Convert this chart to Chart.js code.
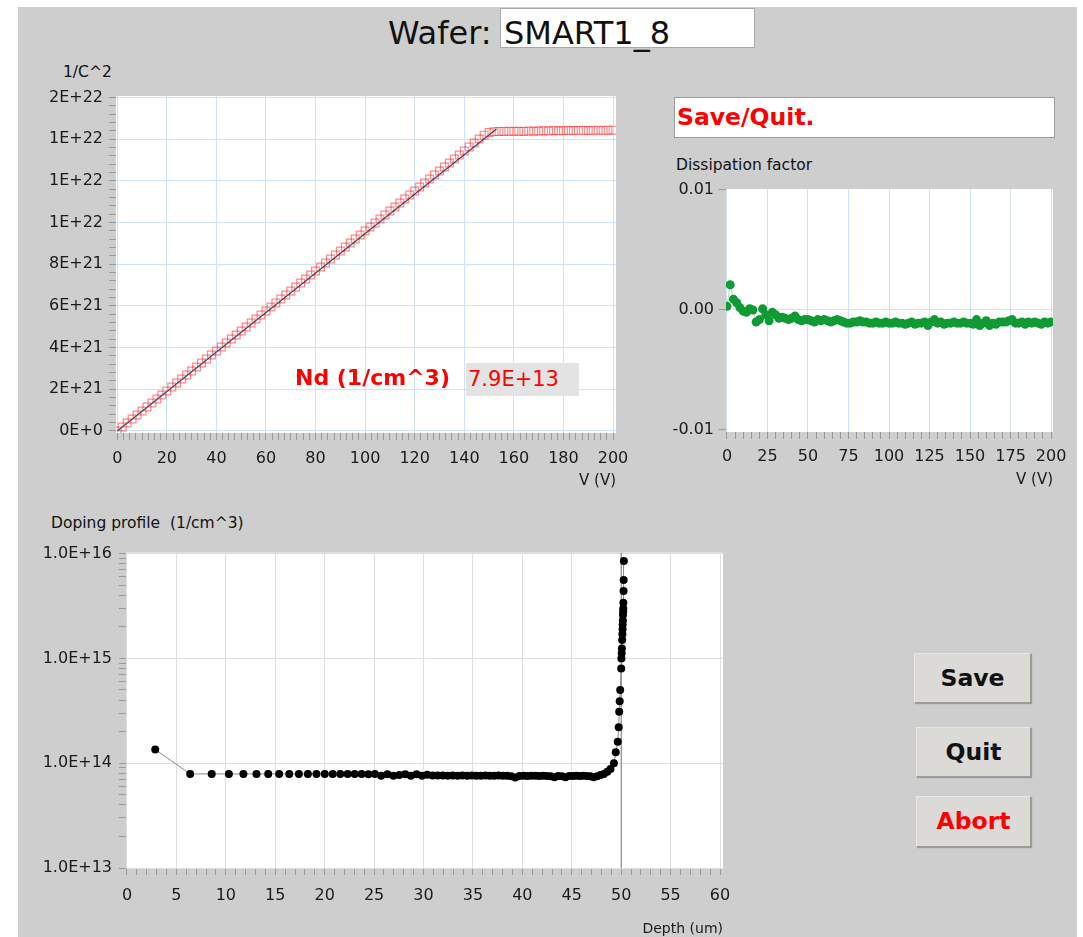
<!DOCTYPE html>
<html>
<head>
<meta charset="utf-8">
<script src="https://cdn.jsdelivr.net/npm/chart.js@4/dist/chart.umd.min.js"></script>
<style>
html,body{margin:0;padding:0;background:#fff;}
body{width:1083px;height:937px;position:relative;overflow:hidden;font-family:'DejaVu Sans',sans-serif;color:#111;}
#panel{position:absolute;left:18px;top:7px;width:1059px;height:930px;background:#cecece;}
.abs{position:absolute;white-space:pre;}
canvas{position:absolute;}
.btn{position:absolute;background:#dcdad6;border-top:1px solid #e9e7e3;border-left:1px solid #e9e7e3;border-right:1px solid #9d9b97;border-bottom:1px solid #9d9b97;box-shadow:1px 1px 1px rgba(0,0,0,0.25);font-weight:bold;font-size:23.5px;text-align:center;box-sizing:border-box;}
</style>
</head>
<body>
<div id="panel"></div>

<div class="abs" style="left:388px;top:13px;font-size:32px;line-height:40px;">Wafer:</div>
<div class="abs" style="left:500px;top:8px;width:255px;height:40px;box-sizing:border-box;background:#fff;border:1px solid #a9a9a9;"></div>
<div class="abs" style="left:504px;top:13px;font-size:32px;line-height:40px;">SMART1_8</div>

<div class="abs" style="left:63px;top:64px;font-size:15.5px;line-height:16px;">1/C^2</div>

<canvas id="c1" width="612" height="410" style="left:30px;top:80px;"></canvas>

<div class="abs" style="left:295px;top:366px;font-size:22px;line-height:24px;font-weight:bold;color:#f00;">Nd (1/cm^3)</div>
<div class="abs" style="left:466px;top:363px;width:113px;height:33px;background:#e3e3e3;"></div>
<div class="abs" style="left:468px;top:363px;font-size:21px;line-height:33px;color:#f00;">7.9E+13</div>

<div class="abs" style="left:674px;top:97px;width:381px;height:41px;box-sizing:border-box;background:#fff;border:1px solid #9c9c9c;"></div>
<div class="abs" style="left:677px;top:97px;font-size:23.5px;line-height:40px;font-weight:bold;color:#f00;">Save/Quit.</div>

<div class="abs" style="left:676px;top:157px;font-size:15.5px;line-height:17px;">Dissipation factor</div>
<canvas id="c2" width="419" height="316" style="left:660px;top:173px;"></canvas>

<div class="abs" style="left:51px;top:515px;font-size:15.5px;line-height:17px;">Doping profile  (1/cm^3)</div>
<canvas id="c3" width="713" height="403" style="left:30px;top:536px;"></canvas>

<div class="btn" style="left:914px;top:653px;width:117px;height:50px;line-height:48px;">Save</div>
<div class="btn" style="left:916px;top:727px;width:115px;height:50px;line-height:48px;">Quit</div>
<div class="btn" style="left:916px;top:796px;width:115px;height:51px;line-height:49px;color:#f00;">Abort</div>

<script>
// ---------------- data ----------------
const voltage = [0,2,4,6,8,10,12,14,16,18,20,22,24,26,28,30,32,34,36,38,40,42,44,46,48,50,52,54,56,58,60,62,64,66,68,70,72,74,76,78,80,82,84,86,88,90,92,94,96,98,100,102,104,106,108,110,112,114,116,118,120,122,124,126,128,130,132,134,136,138,140,142,144,146,148,150,152,154,156,158,160,162,164,166,168,170,172,174,176,178,180,182,184,186,188,190,192,194,196,198,200];

const invC2 = [0,1.92e20,3.84e20,5.76e20,7.68e20,9.6e20,1.152e21,1.344e21,1.536e21,1.728e21,1.92e21,2.112e21,2.304e21,2.496e21,2.688e21,2.88e21,3.072e21,3.264e21,3.456e21,3.648e21,3.84e21,4.032e21,4.224e21,4.416e21,4.608e21,4.8e21,4.992e21,5.184e21,5.376e21,5.568e21,5.76e21,5.952e21,6.144e21,6.336e21,6.528e21,6.72e21,6.912e21,7.104e21,7.296e21,7.488e21,7.68e21,7.872e21,8.064e21,8.256e21,8.448e21,8.64e21,8.832e21,9.024e21,9.216e21,9.408e21,9.6e21,9.792e21,9.984e21,1.0176e22,1.0368e22,1.056e22,1.0752e22,1.0944e22,1.1136e22,1.1328e22,1.152e22,1.1712e22,1.1904e22,1.2096e22,1.2288e22,1.248e22,1.2672e22,1.2864e22,1.3056e22,1.3248e22,1.344e22,1.3632e22,1.3824e22,1.4016e22,1.42e22,1.433e22,1.437e22,1.438e22,1.438e22,1.439e22,1.438e22,1.439e22,1.438e22,1.44e22,1.439e22,1.44e22,1.441e22,1.44e22,1.442e22,1.441e22,1.442e22,1.443e22,1.442e22,1.443e22,1.443e22,1.442e22,1.443e22,1.444e22,1.443e22,1.444e22,1.444e22];

const fitV = [0, 153];
const fitInvC2 = [0, 1.45e22];

const dissipation = [0.0003,0.0021,0.0009,0.0006,0.0002,-0.0001,-0.0002,0.0001,0.0000,-0.0010,-0.0008,0.0001,-0.0004,-0.0009,-0.0002,-0.0004,-0.0007,-0.0006,-0.0007,-0.0008,-0.0007,-0.0005,-0.0008,-0.0009,-0.0008,-0.0008,-0.0009,-0.0010,-0.0008,-0.0009,-0.0008,-0.0009,-0.0010,-0.0009,-0.0008,-0.0009,-0.0010,-0.0011,-0.0011,-0.0010,-0.0010,-0.0009,-0.0010,-0.0010,-0.0011,-0.0011,-0.0010,-0.0011,-0.0011,-0.0010,-0.0011,-0.0011,-0.0010,-0.0011,-0.0011,-0.0012,-0.0011,-0.0010,-0.0012,-0.0011,-0.0011,-0.0010,-0.0013,-0.0010,-0.0008,-0.0011,-0.0010,-0.0012,-0.0011,-0.0011,-0.0010,-0.0011,-0.0011,-0.0010,-0.0011,-0.0011,-0.0012,-0.0008,-0.0013,-0.0011,-0.0009,-0.0013,-0.0011,-0.0012,-0.0010,-0.0010,-0.0010,-0.0009,-0.0008,-0.0011,-0.0011,-0.0010,-0.0012,-0.0010,-0.0011,-0.0010,-0.0011,-0.0012,-0.0010,-0.0011,-0.0010];

const depth = [2.86,6.39,8.57,10.31,11.78,13.10,14.29,15.39,16.42,17.39,18.30,19.17,20.01,20.81,21.58,22.32,23.04,23.74,24.42,25.08,25.72,26.35,26.96,27.56,28.15,28.72,29.29,29.84,30.38,30.92,31.44,31.95,32.46,32.96,33.45,33.94,34.42,34.89,35.35,35.81,36.27,36.71,37.16,37.59,38.02,38.45,38.87,39.29,39.71,40.12,40.52,40.92,41.32,41.71,42.10,42.49,42.87,43.25,43.63,44.00,44.37,44.74,45.10,45.46,45.82,46.17,46.53,46.88,47.22,47.57,47.91,48.25,48.59,48.92,49.26,49.45,49.65,49.75,49.80,49.85,49.90,50.00,50.02,50.05,50.07,50.10,50.12,50.14,50.15,50.17,50.18,50.20,50.21,50.22,50.24,50.25,50.27];
const doping = [1.35e14,7.9e13,7.9e13,7.9e13,7.9e13,7.9e13,7.9e13,7.9e13,7.9e13,7.9e13,7.9e13,7.9e13,7.9e13,7.9e13,7.9e13,7.9e13,7.9e13,7.9e13,7.85e13,7.9e13,7.6e13,7.85e13,7.6e13,7.7e13,7.85e13,7.6e13,7.85e13,7.6e13,7.75e13,7.65e13,7.65e13,7.65e13,7.6e13,7.65e13,7.6e13,7.65e13,7.6e13,7.65e13,7.6e13,7.6e13,7.65e13,7.6e13,7.6e13,7.65e13,7.6e13,7.6e13,7.5e13,7.3e13,7.55e13,7.6e13,7.55e13,7.6e13,7.6e13,7.55e13,7.6e13,7.55e13,7.5e13,7.35e13,7.55e13,7.5e13,7.35e13,7.55e13,7.55e13,7.6e13,7.55e13,7.6e13,7.55e13,7.5e13,7.35e13,7.5e13,7.7e13,7.9e13,8.3e13,8.8e13,1.0e14,1.27e14,1.6e14,2.2e14,3.1e14,3.9e14,5.0e14,8.0e14,1.0e15,1.12e15,1.24e15,1.5e15,1.7e15,1.9e15,2.1e15,2.3e15,2.6e15,2.8e15,3.0e15,3.4e15,4.4e15,5.6e15,8.5e15];

const depletionDepth = [50, 50];
const depletionLine = [1e13, 1.022e16];

// tick definitions
const cvXMajor = [0,20,40,60,80,100,120,140,160,180,200];
const cvYMajor = [0,2e21,4e21,6e21,8e21,1e22,1.2e22,1.4e22,1.6e22];
const dfXMajor = [0,25,50,75,100,125,150,175,200];
const dfYMajor = [-0.01,0,0.01];
const dpXMajor = [0,5,10,15,20,25,30,35,40,45,50,55,60];
const dpYMajor = [1e13,1e14,1e15,1e16];

// ---------------- helpers ----------------
Chart.defaults.font.family = "'DejaVu Sans', sans-serif";
Chart.defaults.color = '#1a1a1a';

const plotBg = {id:'plotBg', beforeDraw(c){const {ctx, chartArea:a} = c; ctx.save(); ctx.fillStyle = '#fff'; ctx.fillRect(a.left, a.top, a.right - a.left, a.bottom - a.top); ctx.restore();}};

function pts(xs, ys){ return xs.map((x, i) => ({x, y: ys[i]})); }
function isIn(list, v){ return list.some(m => Math.abs(m - v) <= Math.abs(m) * 1e-6 + 1e-12); }
function linearTicks(majors, minorStep){
  return function(scale){
    const from = majors[0], to = majors[majors.length - 1];
    const n = Math.round((to - from) / minorStep);
    const t = [];
    for (let i = 0; i <= n; i++) t.push({value: from + i * minorStep});
    scale.ticks = t;
  };
}
function axis(opts){
  const o = {
    type: opts.type || 'linear',
    min: opts.min, max: opts.max,
    border: {display: false},
    afterBuildTicks: opts.buildTicks,
    grid: {
      color: ctx => (ctx.tick && isIn(opts.gridAt, ctx.tick.value)) ? opts.gridColor : 'rgba(0,0,0,0)',
      tickColor: '#9a9a9a',
      tickLength: 7,
      lineWidth: 1
    },
    ticks: {
      autoSkip: false, maxRotation: 0, minRotation: 0,
      padding: opts.pad,
      font: {size: 16},
      color: '#1a1a1a',
      callback: v => isIn(opts.majors, v) ? opts.fmt(v) : ''
    }
  };
  if (opts.width) o.afterFit = s => { s.width = opts.width; };
  if (opts.height) o.afterFit = s => { s.height = opts.height; };
  if (opts.title) o.title = {display: true, text: opts.title, align: 'end', font: {size: opts.titleSize || 15}, color: '#1a1a1a', padding: {top: 0, bottom: opts.titlePad || 0}};
  return o;
}
const common = {responsive: false, animation: false, events: [], plugins: {legend: {display: false}, tooltip: {enabled: false}}};

// ---------------- chart 1: 1/C^2 vs V ----------------
new Chart(document.getElementById('c1'), {
  type: 'scatter',
  data: {datasets: [
    {data: pts(fitV, fitInvC2), showLine: true, borderColor: '#3e4868', borderWidth: 1.2, pointRadius: 0, order: 1},
    {data: pts(voltage, invC2), showLine: false, pointStyle: 'rect', pointRadius: 5.5, borderColor: 'rgba(255,20,20,0.5)', backgroundColor: 'rgba(0,0,0,0)', borderWidth: 1.2, order: 2}
  ]},
  options: Object.assign({}, common, {
    layout: {padding: {top: 16, right: 26, left: 0, bottom: 0}},
    scales: {
      x: axis({min: -0.5, max: 201.2, majors: cvXMajor, gridAt: cvXMajor, gridColor: '#cfe3f8', buildTicks: linearTicks(cvXMajor, 2.5), fmt: v => String(Math.round(v)), pad: 9, height: 57, title: 'V (V)'}),
      y: axis({min: -1e20, max: 1.608e22, majors: cvYMajor, gridAt: cvYMajor, gridColor: '#cfe3f8', buildTicks: linearTicks(cvYMajor, 4e20), fmt: v => v.toExponential(0).toUpperCase(), pad: 6, width: 86})
    }
  }),
  plugins: [plotBg]
});

// ---------------- chart 2: dissipation factor ----------------
new Chart(document.getElementById('c2'), {
  type: 'scatter',
  data: {datasets: [
    {data: pts(voltage, dissipation), showLine: true, borderColor: 'rgba(20,160,60,0.35)', borderWidth: 1, pointRadius: 4.5, pointBackgroundColor: '#109a34', pointBorderColor: '#109a34', pointBorderWidth: 0}
  ]},
  options: Object.assign({}, common, {
    layout: {padding: {top: 16, right: 26, left: 0, bottom: 0}},
    scales: {
      x: axis({min: -0.6, max: 201.2, majors: dfXMajor, gridAt: dfXMajor, gridColor: '#cfe3f8', buildTicks: linearTicks(dfXMajor, 5), fmt: v => String(Math.round(v)), pad: 8, height: 57, title: 'V (V)'}),
      y: axis({min: -0.01017, max: 0.01008, majors: dfYMajor, gridAt: [0], gridColor: '#cfe3f8', buildTicks: linearTicks(dfYMajor, 0.01), fmt: v => (Math.abs(v) < 1e-9 ? 0 : v).toFixed(2), pad: 5, width: 66})
    }
  }),
  plugins: [plotBg]
});

// ---------------- chart 3: doping profile ----------------
function logTicks(scale){
  const t = [];
  for (let e = 13; e <= 15; e++) for (let m = 1; m <= 9; m++) t.push({value: Number(m + 'e' + e)});
  t.push({value: 1e16});
  scale.ticks = t;
}
new Chart(document.getElementById('c3'), {
  type: 'scatter',
  data: {datasets: [
    {data: pts(depletionDepth, depletionLine), showLine: true, borderColor: '#7a7a7a', borderWidth: 1, pointRadius: 0, order: 2},
    {data: pts(depth, doping), showLine: true, borderColor: '#8a8a8a', borderWidth: 1, pointRadius: 4, pointBackgroundColor: '#000', pointBorderColor: '#000', pointBorderWidth: 0, order: 1}
  ]},
  options: Object.assign({}, common, {
    layout: {padding: {top: 16, right: 20, left: 0, bottom: 0}},
    scales: {
      x: axis({min: -0.1, max: 60.3, majors: dpXMajor, gridAt: dpXMajor, gridColor: '#dedede', buildTicks: linearTicks(dpXMajor, 1), fmt: v => String(Math.round(v)), pad: 11, height: 71, title: 'Depth (um)', titleSize: 14, titlePad: 1}),
      y: axis({type: 'logarithmic', min: 1e13, max: 1.022e16, majors: dpYMajor, gridAt: dpYMajor, gridColor: '#dedede', buildTicks: logTicks, fmt: v => v.toExponential(1).toUpperCase(), pad: 7, width: 96})
    }
  }),
  plugins: [plotBg]
});
</script>
</body>
</html>
